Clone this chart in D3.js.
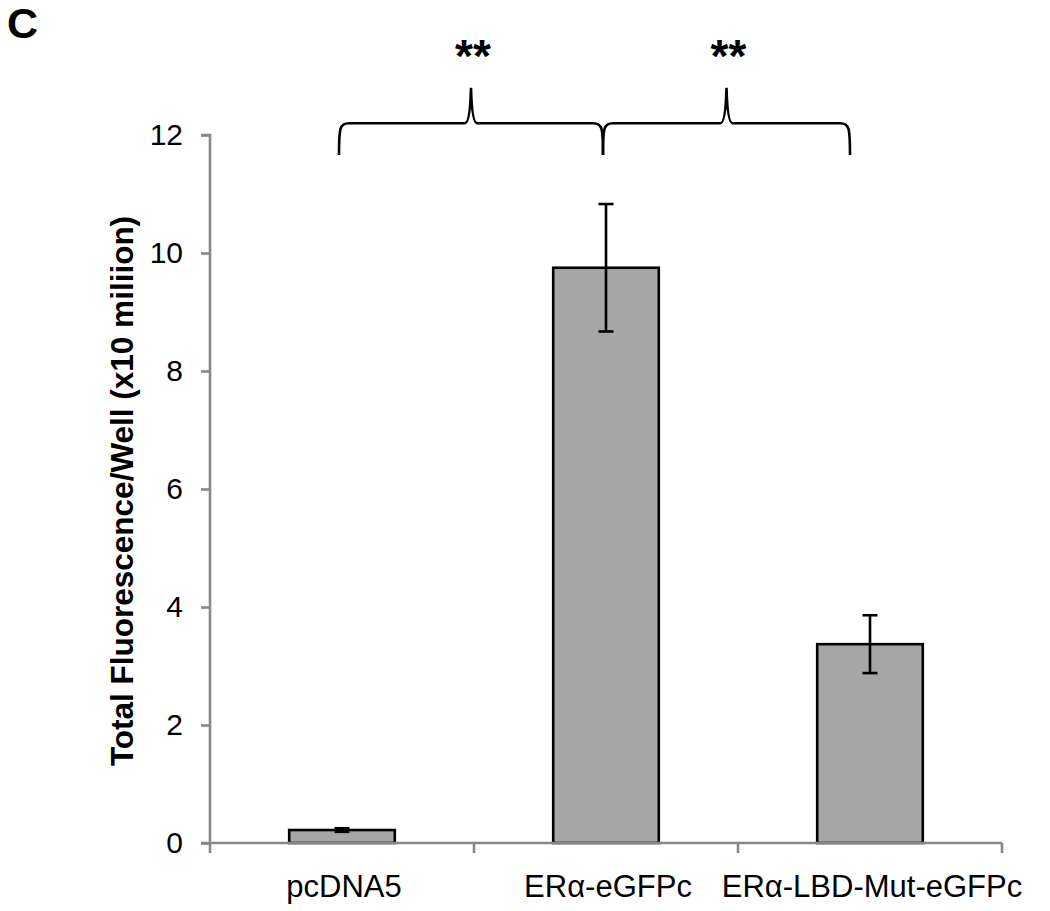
<!DOCTYPE html>
<html><head><meta charset="utf-8">
<script src="https://cdn.jsdelivr.net/npm/d3@7"></script>
<style>body{margin:0;background:#fff;} svg{display:block;}</style>
</head><body>
<svg id="c" width="1050" height="911"></svg>
<script>
const categories = ["pcDNA5", "ERα-eGFPc", "ERα-LBD-Mut-eGFPc"];
const values = [0.22, 9.75, 3.37];
const errors = [0.03, 1.08, 0.49];
const yTicks = [0, 2, 4, 6, 8, 10, 12];
const yLabel = "Total Fluorescence/Well (x10 miliion)";
const panelLabel = "C";
// significance braces: [fromCategory, toCategory, label]
const braces = [[0, 1, "**"], [1, 2, "**"]];

(function () {
const svg = d3.select("#c");
const font = "'Liberation Sans', Arial, sans-serif";
const mL = 210, mR = 1002, mT = 135, mB = 843;

const x = d3.scaleBand().domain(d3.range(categories.length)).range([mL, mR]).paddingInner(0.6).paddingOuter(0.3);
const y = d3.scaleLinear().domain([0, 12]).range([mB, mT]);

// bars
svg.append("g").selectAll("rect").data(values).join("rect")
  .attr("x", (d, i) => x(i)).attr("width", x.bandwidth())
  .attr("y", d => y(d)).attr("height", d => y(0) - y(d))
  .attr("fill", "#a6a6a6").attr("stroke", "#000").attr("stroke-width", 2.6);

// error bars
const eg = svg.append("g").attr("stroke", "#000").attr("stroke-width", 2.6);
values.forEach((v, i) => {
  const cx = x(i) + x.bandwidth() / 2;
  eg.append("line").attr("x1", cx).attr("x2", cx).attr("y1", y(v - errors[i])).attr("y2", y(v + errors[i]));
  [v - errors[i], v + errors[i]].forEach(e => {
    eg.append("line").attr("x1", cx - 7.5).attr("x2", cx + 7.5).attr("y1", y(e)).attr("y2", y(e));
  });
});

// y axis
const yAxis = svg.append("g").attr("transform", `translate(${mL},0)`)
  .call(d3.axisLeft(y).tickValues(yTicks).tickSize(9).tickPadding(18).tickFormat(d3.format("d")));
yAxis.selectAll("line, path").attr("stroke", "#888").attr("stroke-width", 2.6);
yAxis.selectAll("text").attr("font-family", font).attr("font-size", 30).attr("fill", "#000");
yAxis.select(".domain").attr("d", `M-9,${mT}H0V${mB}`);

// x axis
const xAxis = svg.append("g").attr("transform", `translate(0,${mB})`)
  .call(d3.axisBottom(x).tickSize(0).tickPadding(0).tickFormat(i => categories[i]));
xAxis.select(".domain").attr("d", `M${mL - 9},0H${mR}`).attr("stroke", "#888").attr("stroke-width", 2.6);
xAxis.selectAll("text").attr("font-family", font).attr("font-size", 31).attr("fill", "#000")
  .attr("dy", null).attr("y", 54).attr("dx", 2);
const bounds = d3.range(categories.length + 1).map(i => mL + i * x.step());
xAxis.selectAll(".bt").data(bounds).join("line")
  .attr("x1", d => d).attr("x2", d => d).attr("y1", 0).attr("y2", 10)
  .attr("stroke", "#888").attr("stroke-width", 2.6);

// y label
svg.append("text").attr("transform", `translate(133,${(mT + mB) / 2 + 2}) rotate(-90)`)
  .attr("text-anchor", "middle").attr("font-family", font).attr("font-weight", "bold")
  .attr("font-size", 31.5).text(yLabel);

// panel label
svg.append("text").attr("x", 7).attr("y", 38).attr("font-family", font).attr("font-weight", "bold")
  .attr("font-size", 43).text(panelLabel);

// braces
const yh = y(12.2), yb = y(11.66), yp = y(12.8);
const ends = [x(0) + x.bandwidth() / 2 - 3, x(1) + x.bandwidth() / 2 - 3, x(2) + x.bandwidth() / 2 - 20];
braces.forEach(([a, b, lab]) => {
  const x0 = ends[a], x1 = ends[b], xm = (x0 + x1) / 2;
  const p = `M${x0},${yb} C${x0},${yh + 4} ${x0 + 1},${yh} ${x0 + 10},${yh} L${xm - 6},${yh} Q${xm - 1},${yh} ${xm},${yp} Q${xm + 1},${yh} ${xm + 6},${yh} L${x1 - 10},${yh} C${x1 - 1},${yh} ${x1},${yh + 4} ${x1},${yb}`;
  svg.append("path").attr("d", p).attr("fill", "none").attr("stroke", "#000").attr("stroke-width", 2.6);
  svg.append("text").attr("x", xm + 2).attr("y", 72).attr("text-anchor", "middle")
    .attr("font-family", font).attr("font-weight", "bold").attr("font-size", 46).text(lab);
});
})();
</script>
</body></html>
